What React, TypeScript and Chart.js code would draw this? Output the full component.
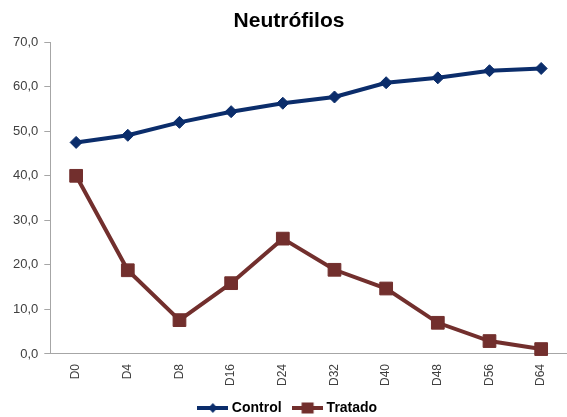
import React, { useEffect, useRef } from "react";
import { Chart, registerables } from "chart.js";

Chart.register(...registerables);

const categories = ["D0", "D4", "D8", "D16", "D24", "D32", "D40", "D48", "D56", "D64"];
const controlValues = [47.5, 49.1, 52.0, 54.4, 56.3, 57.7, 60.9, 62.0, 63.6, 64.1];
const tratadoValues = [40.0, 18.8, 7.6, 15.9, 25.9, 18.9, 14.7, 7.0, 2.9, 1.1];
const yTicks = [0, 10, 20, 30, 40, 50, 60, 70];

const CONTROL_COLOR = "#0B2D6B";
const TRATADO_COLOR = "#722F2D";

function legendIcon(color: string, shape: "diamond" | "square"): HTMLCanvasElement {
  const c = document.createElement("canvas");
  c.width = 31;
  c.height = 14;
  const ctx = c.getContext("2d")!;
  ctx.strokeStyle = color;
  ctx.lineWidth = 4;
  ctx.beginPath();
  ctx.moveTo(0, 7);
  ctx.lineTo(31, 7);
  ctx.stroke();
  ctx.fillStyle = color;
  if (shape === "diamond") {
    ctx.beginPath();
    ctx.moveTo(15.5, 2);
    ctx.lineTo(20, 7);
    ctx.lineTo(15.5, 12);
    ctx.lineTo(11, 7);
    ctx.closePath();
    ctx.fill();
  } else {
    ctx.fillRect(9.5, 1.5, 12, 11);
  }
  return c;
}

export default function App() {
  const ref = useRef<HTMLCanvasElement | null>(null);
  useEffect(() => {
    document.body.style.margin = "0";
    if (!ref.current) return;
    const icons = [legendIcon(CONTROL_COLOR, "diamond"), legendIcon(TRATADO_COLOR, "square")];
    const chart = new Chart(ref.current, {
      type: "line",
      data: {
        labels: categories,
        datasets: [
          {
            label: "Control",
            data: controlValues,
            borderColor: CONTROL_COLOR,
            backgroundColor: CONTROL_COLOR,
            borderWidth: 4,
            pointStyle: "rectRot",
            pointRadius: 6,
            pointHoverRadius: 6,
            pointBorderWidth: 1,
            tension: 0,
          },
          {
            label: "Tratado",
            data: tratadoValues,
            borderColor: TRATADO_COLOR,
            backgroundColor: TRATADO_COLOR,
            borderWidth: 4,
            pointStyle: "rect",
            pointRadius: 9,
            pointHoverRadius: 9,
            pointBorderWidth: 1,
            tension: 0,
          },
        ],
      },
      options: {
        responsive: false,
        animation: false,
        clip: false,
        layout: { autoPadding: false, padding: { left: 7, right: -4, top: 0, bottom: -8 } },
        plugins: {
          title: {
            display: true,
            text: "Neutrófilos",
            color: "#000000",
            font: { family: "'Liberation Sans', Arial, sans-serif", size: 21, weight: "bold" },
            padding: { top: 9, bottom: 8 },
          },
          legend: {
            position: "bottom",
            labels: {
              usePointStyle: true,
              pointStyleWidth: 24,
              boxHeight: 14,
              padding: 14,
              color: "#000000",
              font: { family: "'Liberation Sans', Arial, sans-serif", size: 14, weight: "bold" },
              generateLabels: (ch: any) =>
                ch.data.datasets.map((ds: any, i: number) => ({
                  text: ds.label,
                  pointStyle: icons[i],
                  fillStyle: ds.borderColor,
                  strokeStyle: ds.borderColor,
                  lineWidth: 0,
                  hidden: false,
                  datasetIndex: i,
                  fontColor: "#000000",
                })),
            },
          },
          tooltip: { enabled: false },
        },
        scales: {
          x: {
            offset: true,
            grid: {
              display: true,
              drawOnChartArea: false,
              drawTicks: true,
              tickLength: 9,
              color: "rgba(0,0,0,0)",
            },
            border: { display: true, color: "#A6A6A6", width: 1 },
            ticks: {
              minRotation: 90,
              maxRotation: 90,
              padding: 1,
              color: "#404040",
              font: { family: "'Liberation Sans', Arial, sans-serif", size: 12 },
            },
          },
          y: {
            min: 0,
            max: 70,
            afterBuildTicks: (axis: any) => {
              axis.ticks = yTicks.map((v) => ({ value: v }));
            },
            grid: { display: true, drawOnChartArea: false, drawTicks: true, tickLength: 6, color: "#A6A6A6" },
            border: { display: true, color: "#A6A6A6", width: 1 },
            ticks: {
              padding: 6,
              color: "#404040",
              font: { family: "'Liberation Sans', Arial, sans-serif", size: 13 },
              callback: (v: any) => Number(v).toFixed(1).replace(".", ","),
            },
          },
        },
      },
    });
    return () => chart.destroy();
  }, []);
  return (
    <div style={{ width: 567, height: 417 }}>
      <canvas ref={ref} width={567} height={417} />
    </div>
  );
}
